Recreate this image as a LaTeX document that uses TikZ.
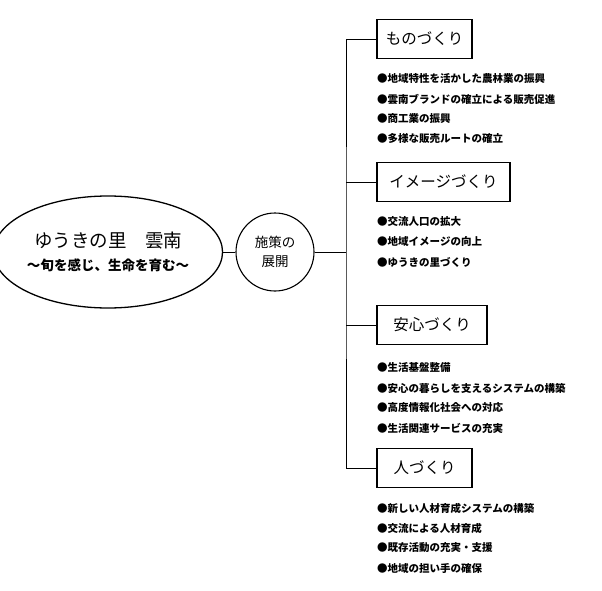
\documentclass[tikz,border=0pt]{standalone}
\usepackage{fontspec}
\usepackage{tikz}
\usetikzlibrary{shapes.geometric}
\newfontfamily\jp{Noto Sans CJK JP}

\begin{document}
\begin{tikzpicture}[x=1pt,y=-1pt,font=\jp,
  heading/.style={draw,line width=1.4pt,minimum height=39pt,inner sep=0pt,
    font=\jp\fontsize{15.5}{18}\selectfont},
  item/.style={anchor=west,inner sep=0pt,font=\jp\bfseries\fontsize{10.5}{12}\selectfont},
  link/.style={line width=0.8pt}]
  \useasboundingbox (0,0) rectangle (602,591);
  % Vision
  \node[ellipse,draw,line width=1.3pt,minimum width=188pt,minimum height=112pt,
    inner sep=0pt,align=center] (sato) at (108,252)
    {{\fontsize{18.5}{22}\selectfont ゆうきの里　雲南}\\[9pt]
     {\bfseries\fontsize{13.5}{16}\selectfont ～旬を感じ、生命を育む～}};
  % Policy circle
  \node[circle,draw,line width=1.1pt,minimum size=78pt,inner sep=0pt,align=center,
    font=\jp\fontsize{13.5}{19}\selectfont] (sesaku) at (275,252) {施策の\\展開};
  % Four headings
  \node[heading,minimum width=95pt] (mono) at (424.5,39) {ものづくり};
  \node[heading,minimum width=133pt] (image) at (443.5,182) {イメージづくり};
  \node[heading,minimum width=110pt] (anshin) at (432,325) {安心づくり};
  \node[heading,minimum width=95pt] (hito) at (424.5,468) {人づくり};
  % Trunk
  \coordinate (trunk) at (346,252);
  \draw[link] (sato) -- (sesaku);
  \draw[link] (sesaku) -- (trunk);
  \draw[link] (mono.west) -| (trunk) |- (hito.west);
  \draw[link] (image.west) -- (image.west -| trunk);
  \draw[link] (anshin.west) -- (anshin.west -| trunk);
  % Items
  \foreach \txt [count=\i] in {地域特性を活かした農林業の振興,
      雲南ブランドの確立による販売促進,商工業の振興,多様な販売ルートの確立}
    \node[item] (mono\i) at (377,{59+20*\i}) {●\txt};
  \foreach \txt [count=\i] in {交流人口の拡大,地域イメージの向上,ゆうきの里づくり}
    \node[item] (image\i) at (377,{202+20*\i}) {●\txt};
  \foreach \txt [count=\i] in {生活基盤整備,安心の暮らしを支えるシステムの構築,
      高度情報化社会への対応,生活関連サービスの充実}
    \node[item] (anshin\i) at (377,{348+20*\i}) {●\txt};
  \foreach \txt [count=\i] in {新しい人材育成システムの構築,交流による人材育成,
      既存活動の充実・支援,地域の担い手の確保}
    \node[item] (hito\i) at (377,{488+20*\i}) {●\txt};
\end{tikzpicture}
\end{document}
